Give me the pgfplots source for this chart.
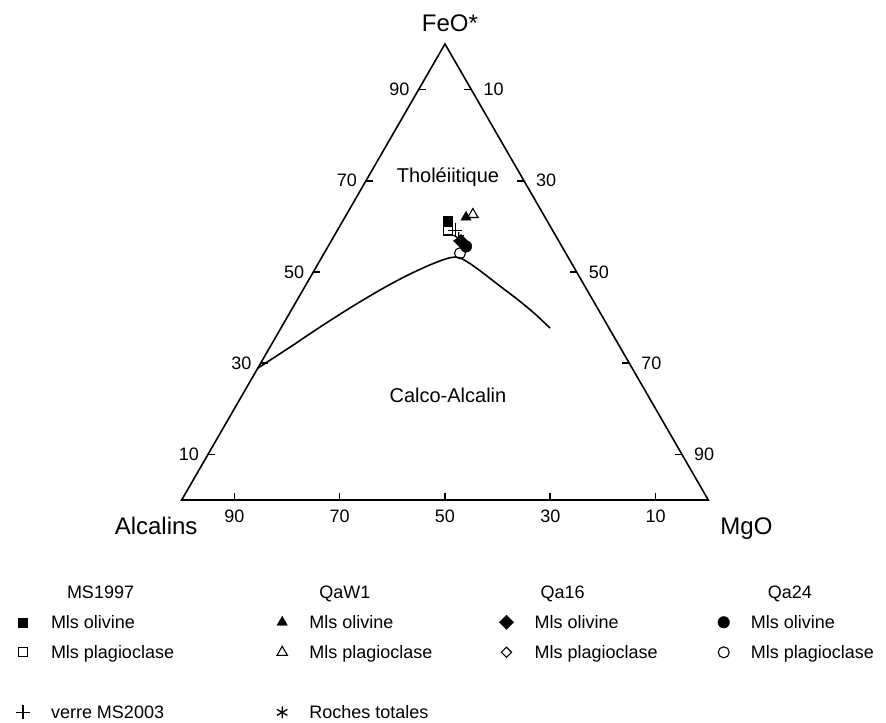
\documentclass[border=0pt]{standalone}
\usepackage{fontspec}
\setmainfont{Liberation Sans}
\usepackage{pgfplots}
\usepackage{pgfplotstable}
\pgfplotsset{compat=1.18}

% compositions in %: A = Alcalins, F = FeO*, M = MgO
\pgfplotstableread{
A F M
71.1 28.9 0.0
62.7 33.5 3.8
54.8 37.9 7.3
47.0 42.1 10.9
39.4 46.0 14.6
33.1 49.0 17.9
28.2 51.1 20.7
24.8 52.4 22.8
22.1 53.2 24.7
20.6 53.1 26.3
19.3 51.8 28.9
17.9 49.8 32.3
16.1 46.9 37.0
14.3 44.1 41.6
12.6 41.0 46.4
11.2 37.7 51.1
}\limite

\pgfplotstableread{
A F M
100 0 0
0 0 100
0 100 0
100 0 0
0 0 100
}\cadre

\pgfplotstableread{
A F M
18.9 61.2 19.9
}\msol
\pgfplotstableread{
A F M
19.8 59.1 21.1
}\msplag
\pgfplotstableread{
A F M
15.0 62.0 23.0
}\qwol
\pgfplotstableread{
A F M
13.4 62.6 24.0
}\qwplag
\pgfplotstableread{
A F M
18.6 56.7 24.7
}\qsol
\pgfplotstableread{
A F M
18.2 55.6 26.2
}\qvol
\pgfplotstableread{
A F M
20.1 54.1 25.8
}\qvplag
\pgfplotstableread{
A F M
18.5 59.1 22.4
}\verre
\pgfplotstableread{
A F M
18.7 57.4 23.9
}\roches

\pgfplotsset{
  table/tern/.style={
    x expr={100*(\thisrow{M}+0.5*\thisrow{F})/(\thisrow{A}+\thisrow{F}+\thisrow{M})},
    y expr={86.6025*\thisrow{F}/(\thisrow{A}+\thisrow{F}+\thisrow{M})}},
  pt/.style={only marks, forget plot, black},
  leg/.style={black, legend image code/.code={%
    \path (-6pt,0pt) (6pt,0pt);
    \draw[##1] plot coordinates {(0pt,0pt)};}},
  sMSol/.style={mark=square*, mark size=4.5pt},
  sMSplag/.style={mark=square, mark size=4.5pt, mark options={line width=1.1pt}},
  sQWol/.style={mark=triangle*, mark size=6pt},
  sQWplag/.style={mark=triangle, mark size=6pt, mark options={line width=1.1pt}},
  sQSol/.style={mark=square*, mark size=5pt, mark options={rotate=45}},
  sQSplag/.style={mark=square, mark size=3.6pt, mark options={rotate=45, line width=1.1pt}},
  sQVol/.style={mark=*, mark size=5.8pt},
  sQVplag/.style={mark=o, mark size=5.5pt, mark options={line width=1.1pt, fill=white}},
  sVerre/.style={mark=+, mark size=7pt, mark options={line width=1.1pt}},
  sRoches/.style={mark=asterisk, mark size=6pt, mark options={line width=1.3pt}},
}

\newcommand{\lt}[2]{\makebox[#1][l]{\rule[-4pt]{0pt}{17pt}\hspace{21pt}#2}}
\newcommand{\lh}[3]{\makebox[#1][l]{\rule[-16pt]{0pt}{29pt}\hspace{#2}#3}}

\begin{document}
\begin{tikzpicture}
\begin{axis}[
  x=5.266pt, y=5.266pt,
  xmin=-34.5, xmax=133.75, ymin=-42.16, ymax=94.95,
  hide axis, clip=false,
  legend columns=4,
  legend cell align=left,
  legend style={at={(0.01806,0.18975)}, anchor=north west, draw=none, fill=none,
    inner sep=0pt, outer sep=0pt, column sep=0pt, row sep=15.5pt,
    font=\fontsize{18}{21}\selectfont, nodes={inner sep=0pt}},
]
\addplot[line width=1.6pt, line join=miter, forget plot] table[tern] {\cadre};
\addplot[smooth, line width=1.6pt, forget plot] table[tern] {\limite};

\addplot[pt, sMSol] table[tern] {\msol};
\addplot[pt, sMSplag] table[tern] {\msplag};
\addplot[pt, sVerre] table[tern] {\verre};
\addplot[pt, sQWol] table[tern] {\qwol};
\addplot[pt, sQWplag] table[tern] {\qwplag};
\addplot[pt, sRoches] table[tern] {\roches};
\addplot[pt, sQSol] table[tern] {\qsol};
\addplot[pt, sQVol] table[tern] {\qvol};
\addplot[pt, sQVplag] table[tern] {\qvplag};

% ticks
\begin{scope}[line width=1.6pt]
\draw (axis cs:5,8.660) -- ++(7pt,0pt);
\draw (axis cs:15,25.981) -- ++(7pt,0pt);
\draw (axis cs:25,43.301) -- ++(7pt,0pt);
\draw (axis cs:35,60.622) -- ++(7pt,0pt);
\draw (axis cs:45,77.942) -- ++(7pt,0pt);
\draw (axis cs:55,77.942) -- ++(-7pt,0pt);
\draw (axis cs:65,60.622) -- ++(-7pt,0pt);
\draw (axis cs:75,43.301) -- ++(-7pt,0pt);
\draw (axis cs:85,25.981) -- ++(-7pt,0pt);
\draw (axis cs:95,8.660) -- ++(-7pt,0pt);
\draw (axis cs:10,0) -- ++(0pt,7pt);
\draw (axis cs:30,0) -- ++(0pt,7pt);
\draw (axis cs:50,0) -- ++(0pt,7pt);
\draw (axis cs:70,0) -- ++(0pt,7pt);
\draw (axis cs:90,0) -- ++(0pt,7pt);
\end{scope}

\begin{scope}[every node/.style={inner sep=0pt, font=\fontsize{18}{21}\selectfont}]
\node[anchor=east, xshift=-9pt] at (axis cs:5,8.660) {10};
\node[anchor=east, xshift=-9pt] at (axis cs:15,25.981) {30};
\node[anchor=east, xshift=-9pt] at (axis cs:25,43.301) {50};
\node[anchor=east, xshift=-9pt] at (axis cs:35,60.622) {70};
\node[anchor=east, xshift=-9pt] at (axis cs:45,77.942) {90};
\node[anchor=west, xshift=12pt] at (axis cs:55,77.942) {10};
\node[anchor=west, xshift=12pt] at (axis cs:65,60.622) {30};
\node[anchor=west, xshift=12pt] at (axis cs:75,43.301) {50};
\node[anchor=west, xshift=12pt] at (axis cs:85,25.981) {70};
\node[anchor=west, xshift=12pt] at (axis cs:95,8.660) {90};
\node[anchor=base, yshift=-23pt] at (axis cs:10,0) {90};
\node[anchor=base, yshift=-23pt] at (axis cs:30,0) {70};
\node[anchor=base, yshift=-23pt] at (axis cs:50,0) {50};
\node[anchor=base, yshift=-23pt] at (axis cs:70,0) {30};
\node[anchor=base, yshift=-23pt] at (axis cs:90,0) {10};
\end{scope}

\begin{scope}[every node/.style={inner sep=0pt, font=\fontsize{24}{28}\selectfont}]
\node[anchor=base, xshift=5pt, yshift=12pt] at (axis cs:50,86.6025) {FeO*};
\node[anchor=base east, xshift=16pt, yshift=-35pt] at (axis cs:0,0) {Alcalins};
\node[anchor=base west, xshift=12pt, yshift=-35pt] at (axis cs:100,0) {MgO};
\end{scope}

\begin{scope}[every node/.style={inner sep=0pt, font=\fontsize{20}{24}\selectfont}]
\node[anchor=base] at (axis cs:50.57,60.2) {Tholéiitique};
\node[anchor=base] at (axis cs:50.57,18.42) {Calco-Alcalin};
\end{scope}

\addlegendimage{empty legend}\addlegendentry{\lh{246pt}{37pt}{MS1997}}
\addlegendimage{empty legend}\addlegendentry{\lh{211pt}{31pt}{QaW1}}
\addlegendimage{empty legend}\addlegendentry{\lh{204pt}{27pt}{Qa16}}
\addlegendimage{empty legend}\addlegendentry{\lh{165pt}{38pt}{Qa24}}
\addlegendimage{leg, sMSol}\addlegendentry{\lt{246pt}{Mls olivine}}
\addlegendimage{leg, sQWol}\addlegendentry{\lt{211pt}{Mls olivine}}
\addlegendimage{leg, sQSol}\addlegendentry{\lt{204pt}{Mls olivine}}
\addlegendimage{leg, sQVol}\addlegendentry{\lt{165pt}{Mls olivine}}
\addlegendimage{leg, sMSplag}\addlegendentry{\lt{246pt}{Mls plagioclase}}
\addlegendimage{leg, sQWplag}\addlegendentry{\lt{211pt}{Mls plagioclase}}
\addlegendimage{leg, sQSplag}\addlegendentry{\lt{204pt}{Mls plagioclase}}
\addlegendimage{leg, sQVplag}\addlegendentry{\lt{165pt}{Mls plagioclase}}
\addlegendimage{empty legend}\addlegendentry{\lt{246pt}{}}
\addlegendimage{empty legend}\addlegendentry{\lt{211pt}{}}
\addlegendimage{empty legend}\addlegendentry{\lt{204pt}{}}
\addlegendimage{empty legend}\addlegendentry{\lt{165pt}{}}
\addlegendimage{leg, sVerre}\addlegendentry{\lt{246pt}{verre MS2003}}
\addlegendimage{leg, sRoches}\addlegendentry{\lt{211pt}{Roches totales}}
\end{axis}
\pgfresetboundingbox
\useasboundingbox (current axis.south west) rectangle (current axis.north east);
\end{tikzpicture}
\end{document}
